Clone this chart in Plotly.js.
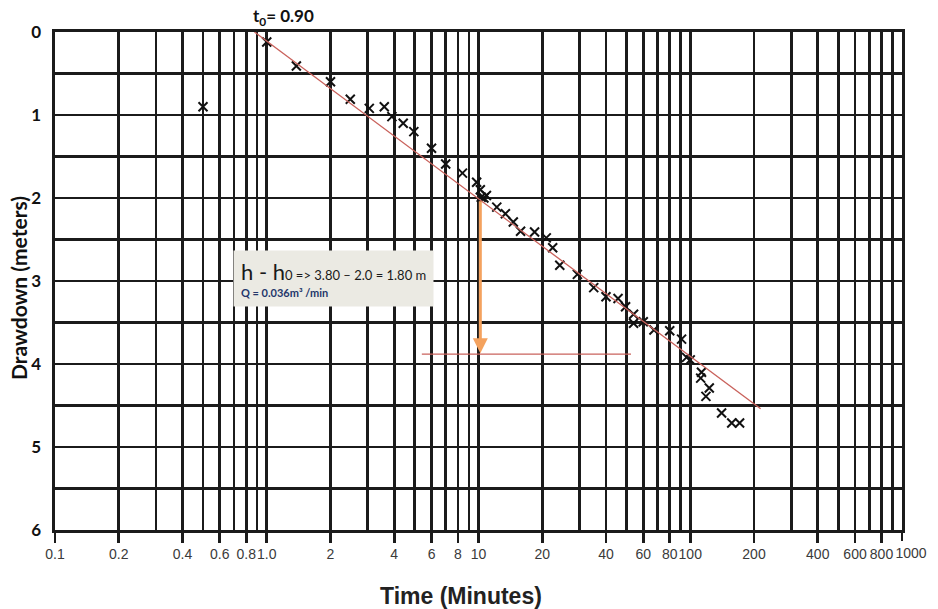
<!DOCTYPE html>
<html>
<head>
<meta charset="utf-8">
<script src="https://cdn.plot.ly/plotly-3.0.1.min.js"></script>
<style>html,body{margin:0;padding:0;background:#fff;}#chart{width:938px;height:609px;}</style>
</head>
<body>
<div id="chart"></div>
<script>
// Observed drawdown data (time in minutes, drawdown in meters)
const timeMin = [0.5, 1.0, 1.38, 2.0, 2.48, 3.05, 3.59, 3.9, 4.41, 4.95, 6.0, 7.0, 8.4, 9.8, 10.2, 10.3, 10.6, 10.9, 12.2, 13.4, 14.6, 15.8, 18.4, 20.9, 22.4, 24.2, 29.3, 35, 40, 45.6, 49.5, 54, 54, 60, 67.4, 80, 91, 96, 100, 113, 112, 123, 118.6, 140.6, 157, 171];
const drawdown = [0.90, 0.12, 0.41, 0.60, 0.81, 0.92, 0.90, 1.02, 1.10, 1.20, 1.40, 1.59, 1.70, 1.81, 1.90, 1.99, 2.00, 1.97, 2.11, 2.19, 2.29, 2.40, 2.41, 2.48, 2.60, 2.81, 2.92, 3.08, 3.19, 3.21, 3.31, 3.40, 3.51, 3.49, 3.59, 3.60, 3.70, 3.92, 3.95, 4.10, 4.17, 4.29, 4.39, 4.59, 4.71, 4.71];

// Straight-line fit (Cooper-Jacob) and helper construction lines
const fitX = [0.875, 215];
const fitY = [0.0, 4.54];
const refLineX = [5.4, 52.5];
const refLineY = [3.88, 3.88];
const arrowX = 10.2;
const arrowFromY = 2.02;
const arrowToY = 3.87;

// Axis ticks
const xTickVals = [0.1, 0.2, 0.4, 0.6, 0.8, 1, 2, 4, 6, 8, 10, 20, 40, 60, 80, 100, 200, 400, 600, 800];
const xTickText = ['0.1', '0.2', '0.4', '0.6', '0.8', '1.0', '2', '4', '6', '8', '10', '20', '40', '60', '80', '100', '200', '400', '600', '800'];
const xEndTickVals = [1000];
const xEndTickText = ['1000'];
const xMinorVals = [0.3, 0.5, 0.7, 0.9, 3, 5, 7, 9, 30, 50, 70, 90, 300, 500, 700, 900];
const yTickVals = [0, 1, 2, 3, 4, 5, 6];
const yMinorVals = [0.5, 1.5, 2.5, 3.5, 4.5, 5.5];

const gridCol = '#1b1b1b';
const gridW = 2.6;
const redCol = '#c9625c';
const xTickFont = {family: 'Liberation Sans, Arial, sans-serif', size: 14, color: '#3a3a3a'};

const traces = [
  {x: fitX, y: fitY, mode: 'lines', line: {color: redCol, width: 1.3}, hoverinfo: 'skip', xaxis: 'x2'},
  {x: refLineX, y: refLineY, mode: 'lines', line: {color: redCol, width: 1.3}, hoverinfo: 'skip'},
  {x: timeMin, y: drawdown, mode: 'markers',
   marker: {symbol: 'x-thin', size: 9, color: '#111', line: {color: '#111', width: 2}}}
];

const layout = {
  width: 938, height: 609,
  margin: {l: 55, r: 36, t: 32, b: 79},
  paper_bgcolor: '#ffffff', plot_bgcolor: '#ffffff',
  showlegend: false,
  xaxis: {
    type: 'log', range: [-1, 3],
    tickmode: 'array', tickvals: xTickVals, ticktext: xTickText, tickangle: 0,
    ticks: 'outside', ticklen: 10, tickwidth: gridW, tickcolor: gridCol,
    showgrid: true, gridcolor: gridCol, gridwidth: gridW,
    minor: {tickmode: 'array', tickvals: xMinorVals.concat([1000]), showgrid: true, gridcolor: gridCol, gridwidth: gridW, ticks: ''},
    showline: true, mirror: true, linecolor: gridCol, linewidth: gridW,
    zeroline: false,
    tickfont: xTickFont
  },
  xaxis2: {
    type: 'log', range: [-1, 3], overlaying: 'x', anchor: 'y', side: 'bottom',
    tickmode: 'array', tickvals: xEndTickVals, ticktext: xEndTickText, tickangle: 0,
    ticks: 'outside', ticklen: 10, tickwidth: gridW, tickcolor: gridCol,
    ticklabelshift: 9,
    showgrid: false, showline: false, zeroline: false,
    tickfont: xTickFont
  },
  yaxis: {
    range: [6, 0],
    tickmode: 'array', tickvals: yTickVals,
    ticks: '', ticklabelstandoff: 8,
    showgrid: true, gridcolor: gridCol, gridwidth: gridW,
    minor: {tickmode: 'array', tickvals: yMinorVals, showgrid: true, gridcolor: gridCol, gridwidth: gridW, ticks: ''},
    showline: true, mirror: true, linecolor: gridCol, linewidth: gridW,
    zeroline: false,
    tickfont: {family: 'Lato, sans-serif', size: 17, color: '#111', weight: 'bold'}
  },
  annotations: [
    {xref: 'x', yref: 'y', x: Math.log10(arrowX), y: arrowToY,
     axref: 'x', ayref: 'y', ax: Math.log10(arrowX), ay: arrowFromY,
     text: '', showarrow: true, arrowhead: 2, arrowsize: 1, arrowwidth: 3, arrowcolor: '#f4a25e', standoff: 0},
    {xref: 'x', yref: 'y', x: Math.log10(0.69), y: 2.97, xanchor: 'left', yanchor: 'middle',
     align: 'left', showarrow: false, bgcolor: '#ebeae3', borderpad: 7,
     font: {family: 'Lato, sans-serif', size: 13, color: '#1a1a1a'},
     text: '<span style="font-size:22px">h - h</span><span style="font-size:13px">0 => 3.80 – 2.0 = 1.80 m</span><br><span style="font-size:11px;color:#24376b"><b>Q = 0.036m³ /min</b></span>'},
    {xref: 'x', yref: 'paper', x: Math.log10(0.9), y: 1, xanchor: 'left', yanchor: 'bottom', xshift: -6, yshift: 1,
     showarrow: false, font: {family: 'Lato, sans-serif', size: 17, color: '#111'},
     text: '<b>t<sub>0</sub>= 0.90</b>'},
    {xref: 'paper', yref: 'paper', x: (461 - 55) / 847, y: -(596 - 530) / 498, xanchor: 'center', yanchor: 'middle',
     showarrow: false, font: {family: 'Liberation Sans, Arial, sans-serif', size: 23, color: '#222'},
     text: '<b>Time (Minutes)</b>'},
    {xref: 'paper', yref: 'paper', x: (18 - 55) / 847, y: (530 - 288) / 498, xanchor: 'center', yanchor: 'middle',
     textangle: -90, showarrow: false, font: {family: 'Lato, sans-serif', size: 21, color: '#111'},
     text: '<b>Drawdown (meters)</b>'}
  ]
};

Plotly.newPlot('chart', traces, layout, {staticPlot: true, displayModeBar: false});
</script>
</body>
</html>
